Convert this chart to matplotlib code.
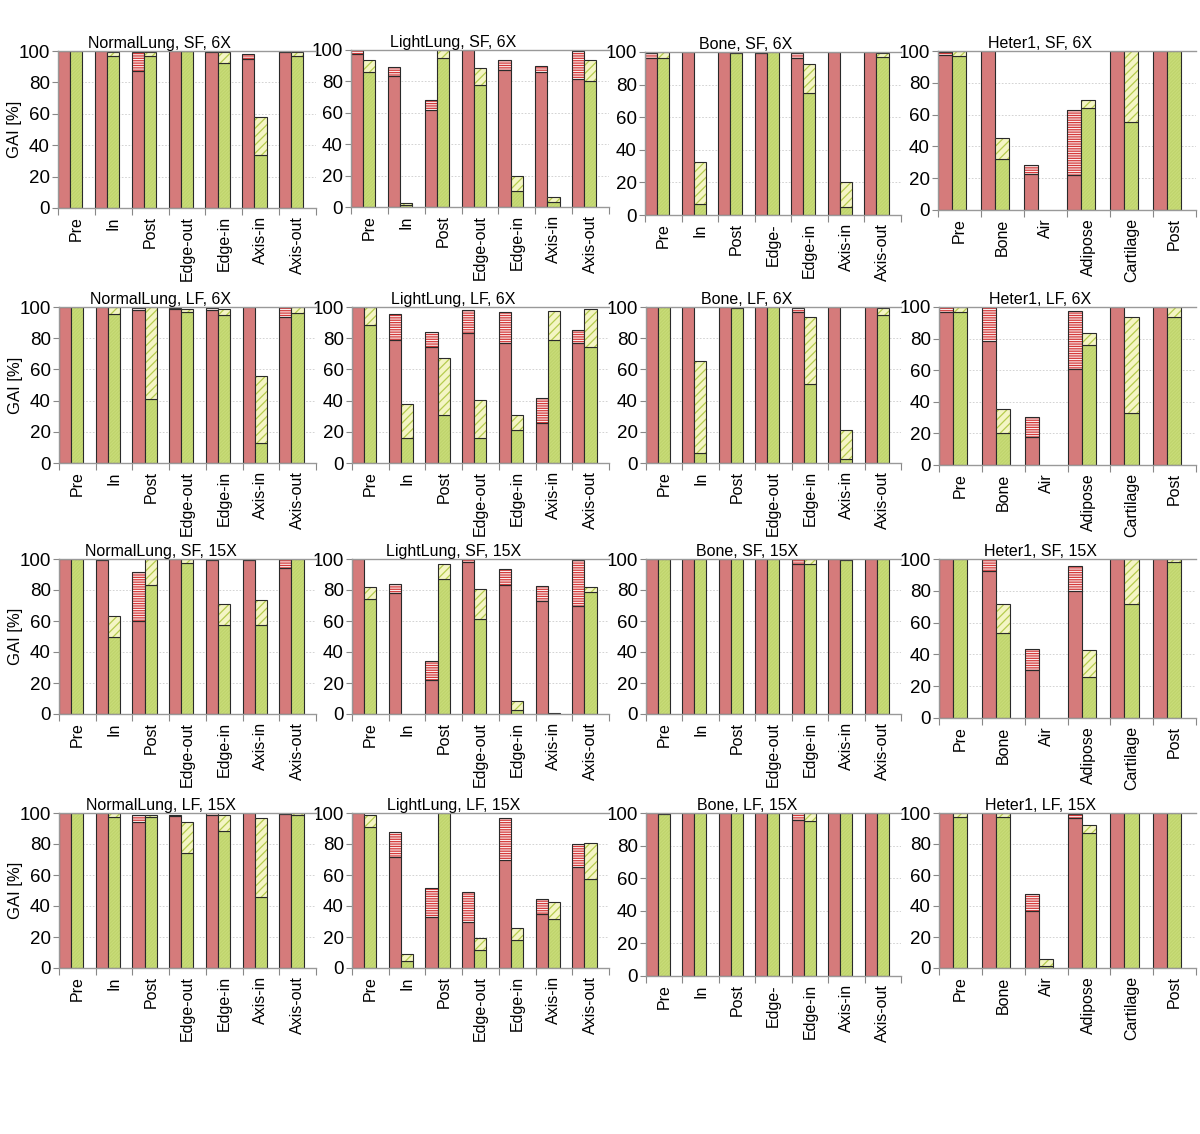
import numpy as np
import matplotlib.pyplot as plt

plt.rcParams['font.family'] = ['Liberation Sans', 'DejaVu Sans']
plt.rcParams['hatch.linewidth'] = 0.9

# categories
lung_cats = ["Pre", "In", "Post", "Edge-out", "Edge-in", "Axis-in", "Axis-out"]
bone_cats = ["Pre", "In", "Post", "Edge-out", "Edge-in", "Axis-in", "Axis-out"]
bone_cats_cut = ["Pre", "In", "Post", "Edge-", "Edge-in", "Axis-in", "Axis-out"]
heter_cats = ["Pre", "Bone", "Air", "Adipose", "Cartilage", "Post"]

# each panel: red solid / red hatched top / green solid / green hatched top  (GAI %)
nl_sf6_red = [100, 100, 87.4, 100, 99.5, 94.7, 99.5]
nl_sf6_red_top = [100, 100, 99.1, 100, 100, 98.3, 100]
nl_sf6_green = [100, 96.8, 96.8, 99.7, 92.1, 33.8, 96.8]
nl_sf6_green_top = [100, 99.4, 99.5, 100, 99.1, 58.1, 99.4]

ll_sf6_red = [97.2, 83.7, 61.9, 100, 87.1, 85.8, 81.8]
ll_sf6_red_top = [100, 89.0, 68.2, 100, 93.9, 90.0, 99.6]
ll_sf6_green = [85.8, 1.5, 94.7, 77.5, 10.2, 3.4, 80.3]
ll_sf6_green_top = [93.4, 2.5, 100, 88.8, 19.5, 6.4, 93.4]

bo_sf6_red = [96.3, 100, 100, 99.5, 96.3, 100, 100]
bo_sf6_red_top = [99.6, 100, 100, 100, 99.4, 100, 100]
bo_sf6_green = [96.3, 6.5, 99.6, 100, 75.1, 4.9, 96.9]
bo_sf6_green_top = [100, 32.7, 100, 100, 92.7, 20.2, 99.6]

he_sf6_red = [97.5, 100, 22.6, 21.8, 100, 100]
he_sf6_red_top = [99.6, 100, 28.5, 62.9, 100, 100]
he_sf6_green = [96.6, 31.9, 0, 64.2, 55.1, 100]
he_sf6_green_top = [100, 45.3, 0, 69.0, 100, 100]

nl_lf6_red = [100, 100, 98.3, 98.5, 97.9, 100, 93.4]
nl_lf6_red_top = [100, 100, 99.5, 99.5, 99.5, 100, 100]
nl_lf6_green = [100, 95.3, 41.2, 96.8, 94.9, 13.0, 96.4]
nl_lf6_green_top = [100, 100, 100, 98.7, 98.7, 55.6, 100]

ll_lf6_red = [100, 79.1, 74.4, 83.5, 76.9, 25.6, 76.7]
ll_lf6_red_top = [100, 95.7, 84.0, 98.1, 96.6, 41.7, 85.5]
ll_lf6_green = [88.7, 16.0, 30.8, 16.2, 21.4, 79.1, 74.4]
ll_lf6_green_top = [100, 38.0, 67.1, 40.6, 30.8, 97.6, 98.7]

bo_lf6_red = [100, 100, 100, 100, 96.8, 100, 100]
bo_lf6_red_top = [100, 100, 100, 100, 99.4, 100, 100]
bo_lf6_green = [100, 6.4, 99.6, 100, 50.6, 2.6, 95.1]
bo_lf6_green_top = [100, 65.6, 100, 100, 93.8, 21.2, 99.6]

he_lf6_red = [96.6, 78.5, 17.9, 61.0, 100, 100]
he_lf6_red_top = [100, 100, 30.5, 97.5, 100, 100]
he_lf6_green = [96.8, 20.4, 0, 76.2, 33.0, 93.7]
he_lf6_green_top = [100, 35.2, 0, 83.8, 93.9, 100]

nl_sf15_red = [100, 99.4, 60.3, 100, 99.4, 99.4, 94.4]
nl_sf15_red_top = [100, 100, 91.6, 100, 100, 100, 100]
nl_sf15_green = [100, 49.6, 83.3, 97.2, 57.1, 57.1, 100]
nl_sf15_green_top = [100, 63.5, 100, 100, 70.8, 73.4, 100]

ll_sf15_red = [100, 77.9, 22.1, 98.3, 83.0, 73.0, 69.5]
ll_sf15_red_top = [100, 83.7, 33.9, 100, 93.8, 82.8, 99.1]
ll_sf15_green = [74.0, 0, 86.9, 61.2, 2.6, 0, 78.5]
ll_sf15_green_top = [82.2, 0, 97.0, 80.9, 8.2, 0.6, 82.2]

bo_sf15_red = [100, 100, 100, 100, 96.6, 100, 100]
bo_sf15_red_top = [100, 100, 100, 100, 100, 100, 100]
bo_sf15_green = [100, 100, 100, 100, 96.6, 99.4, 100]
bo_sf15_green_top = [100, 100, 100, 100, 100, 100, 100]

he_sf15_red = [100, 92.6, 30.3, 79.6, 100, 100]
he_sf15_red_top = [100, 100, 43.6, 95.6, 100, 100]
he_sf15_green = [100, 53.5, 0, 26.1, 71.8, 98.3]
he_sf15_green_top = [100, 71.8, 0, 42.5, 100, 100]

nl_lf15_red = [100, 100, 94.5, 98.0, 99.0, 100, 99.5]
nl_lf15_red_top = [100, 100, 99.0, 99.0, 100, 100, 100]
nl_lf15_green = [100, 97.5, 97.5, 74.0, 88.4, 45.8, 98.5]
nl_lf15_green_top = [100, 100, 99.0, 94.0, 98.7, 96.8, 100]

ll_lf15_red = [100, 71.6, 32.9, 29.7, 69.7, 34.8, 65.2]
ll_lf15_red_top = [100, 87.7, 51.6, 49.0, 96.8, 44.5, 80.0]
ll_lf15_green = [91.0, 4.5, 100, 11.6, 18.0, 31.6, 57.4]
ll_lf15_green_top = [98.7, 9.0, 100, 19.4, 25.8, 42.6, 80.6]

bo_lf15_red = [100, 100, 100, 100, 96.0, 100, 100]
bo_lf15_red_top = [100, 100, 100, 100, 100, 100, 100]
bo_lf15_green = [99.5, 100, 100, 100, 95.0, 100, 100]
bo_lf15_green_top = [100, 100, 100, 100, 100, 100, 100]

he_lf15_red = [100, 100, 36.8, 97.0, 100, 100]
he_lf15_red_top = [100, 100, 47.7, 99.4, 100, 100]
he_lf15_green = [97.5, 97.5, 1.3, 87.0, 100, 100]
he_lf15_green_top = [100, 100, 5.8, 92.0, 100, 100]

panels = [
    ("NormalLung, SF, 6X", lung_cats, nl_sf6_red, nl_sf6_red_top, nl_sf6_green, nl_sf6_green_top),
    ("LightLung, SF, 6X", lung_cats, ll_sf6_red, ll_sf6_red_top, ll_sf6_green, ll_sf6_green_top),
    ("Bone, SF, 6X", bone_cats_cut, bo_sf6_red, bo_sf6_red_top, bo_sf6_green, bo_sf6_green_top),
    ("Heter1, SF, 6X", heter_cats, he_sf6_red, he_sf6_red_top, he_sf6_green, he_sf6_green_top),
    ("NormalLung, LF, 6X", lung_cats, nl_lf6_red, nl_lf6_red_top, nl_lf6_green, nl_lf6_green_top),
    ("LightLung, LF, 6X", lung_cats, ll_lf6_red, ll_lf6_red_top, ll_lf6_green, ll_lf6_green_top),
    ("Bone, LF, 6X", bone_cats, bo_lf6_red, bo_lf6_red_top, bo_lf6_green, bo_lf6_green_top),
    ("Heter1, LF, 6X", heter_cats, he_lf6_red, he_lf6_red_top, he_lf6_green, he_lf6_green_top),
    ("NormalLung, SF, 15X", lung_cats, nl_sf15_red, nl_sf15_red_top, nl_sf15_green, nl_sf15_green_top),
    ("LightLung, SF, 15X", lung_cats, ll_sf15_red, ll_sf15_red_top, ll_sf15_green, ll_sf15_green_top),
    ("Bone, SF, 15X", bone_cats, bo_sf15_red, bo_sf15_red_top, bo_sf15_green, bo_sf15_green_top),
    ("Heter1, SF, 15X", heter_cats, he_sf15_red, he_sf15_red_top, he_sf15_green, he_sf15_green_top),
    ("NormalLung, LF, 15X", lung_cats, nl_lf15_red, nl_lf15_red_top, nl_lf15_green, nl_lf15_green_top),
    ("LightLung, LF, 15X", lung_cats, ll_lf15_red, ll_lf15_red_top, ll_lf15_green, ll_lf15_green_top),
    ("Bone, LF, 15X", bone_cats_cut, bo_lf15_red, bo_lf15_red_top, bo_lf15_green, bo_lf15_green_top),
    ("Heter1, LF, 15X", heter_cats, he_lf15_red, he_lf15_red_top, he_lf15_green, he_lf15_green_top),
]

# axes boxes in pixels: left, top, right, bottom
boxes = [
    (58, 51, 316, 208), (351, 50, 609, 207), (645, 52, 901, 215), (938, 51, 1196, 210),
    (59, 307, 316, 463), (352, 307, 609, 463), (646, 307, 901, 463), (939, 307, 1196, 465),
    (59, 559, 316, 714), (352, 559, 609, 714), (646, 559, 901, 714), (939, 559, 1196, 718),
    (59, 813, 316, 968), (352, 813, 609, 968), (646, 813, 901, 976), (939, 813, 1196, 968),
]

W, H = 1200, 1134
fig = plt.figure(figsize=(W / 100, H / 100), dpi=100)

RED = '#D57B7B'
RED_STRIPE = '#D43A3A'
GREEN = '#C9DD7A'
GREEN_TEX = '#C0D46C'
GREEN_STRIPE = '#B5CC4E'
EDGE = '#2a2a2a'
bw = 0.33


def seg(ax, x, lo, hi, face, hatch_col, hatch):
    if hi - lo <= 0:
        return
    ax.bar(x, hi - lo, bottom=lo, width=bw, align='edge', color=face,
           edgecolor=hatch_col, hatch=hatch, linewidth=0)
    ax.bar(x, hi - lo, bottom=lo, width=bw, align='edge', fill=False,
           edgecolor=EDGE, linewidth=0.8)


# draw right to left so left panels cover the neighbour's tick labels
order = []
for r in range(4):
    order += [r * 4 + c for c in (3, 2, 1, 0)]

for k in order:
    title, cats, red, red_top, green, green_top = panels[k]
    x0, y0, x1, y1 = boxes[k]
    ax = fig.add_axes([x0 / W, 1 - y1 / H, (x1 - x0) / W, (y1 - y0) / H])
    n = len(cats)
    for i in range(n):
        seg(ax, i, 0, red[i], RED, RED, None)
        seg(ax, i, red[i], red_top[i], '#FCEDED', RED_STRIPE, '-------')
        seg(ax, i + bw, 0, green[i], GREEN, GREEN_TEX, '//////////')
        seg(ax, i + bw, green[i], green_top[i], '#F4F5C4', GREEN_STRIPE, '////')

    ax.set_xlim(0, n - 0.34)
    ax.set_ylim(0, 100)
    ax.set_yticks([0, 20, 40, 60, 80, 100])
    ax.set_xticks(np.arange(n + 1))
    ax.set_xticklabels([])
    ax.set_xticks(np.arange(n) + 0.5, minor=True)
    ax.set_xticklabels(cats, minor=True, rotation=90, fontsize=11.5)
    ax.tick_params(axis='x', which='major', length=5, color='#888888')
    ax.tick_params(axis='x', which='minor', length=0, pad=6)
    ax.tick_params(axis='y', length=4, color='#888888', labelsize=13.5, pad=2)
    ax.yaxis.grid(True, linestyle=(0, (2, 2)), color='#cccccc', linewidth=0.6)
    ax.set_axisbelow(True)
    ax.spines['right'].set_visible(False)
    for s in ('top', 'left', 'bottom'):
        ax.spines[s].set_color('#999999')
        ax.spines[s].set_linewidth(1.0)
    ax.set_title(title, fontsize=11.5, pad=2, x=0.395)
    if k % 4 == 0:
        ax.set_ylabel("GAI [%]", fontsize=12)
        ax.yaxis.set_label_coords(-0.14, 0.5)

fig.savefig("out.png", dpi=100)
